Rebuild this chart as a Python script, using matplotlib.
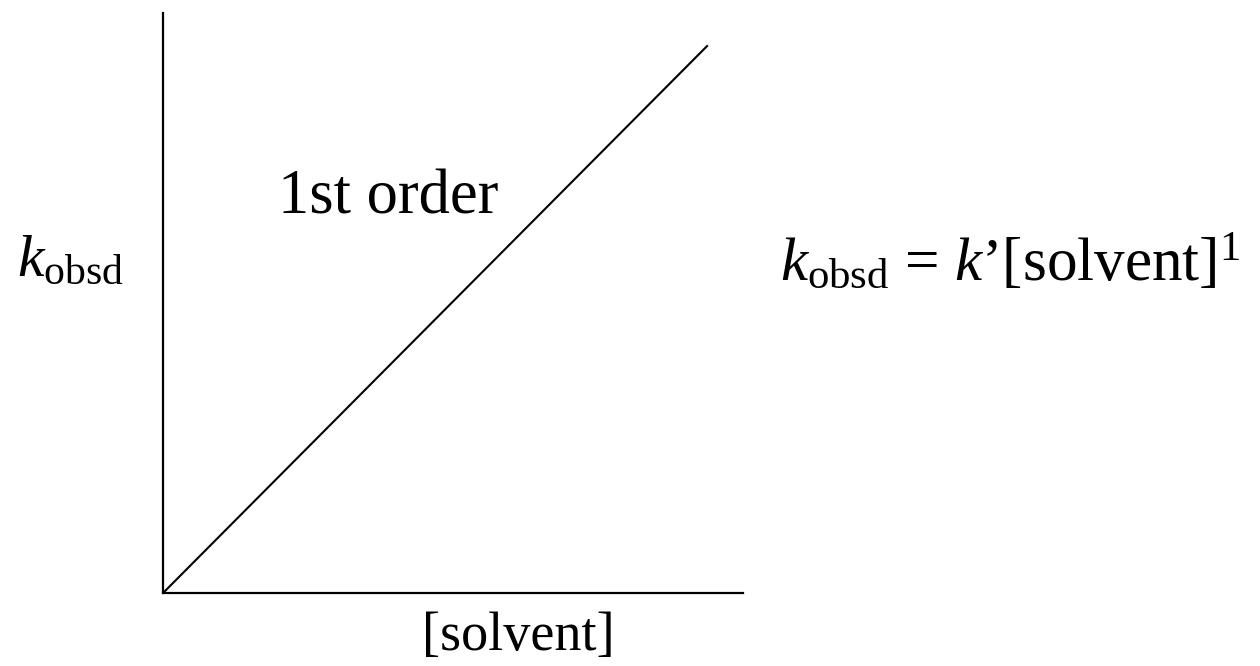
import matplotlib
matplotlib.use("Agg")
import matplotlib.pyplot as plt

plt.rcParams['font.family'] = ['Liberation Serif', 'DejaVu Serif']
plt.rcParams['mathtext.fontset'] = 'custom'
plt.rcParams['mathtext.rm'] = 'Liberation Serif'
plt.rcParams['mathtext.it'] = 'Liberation Serif:italic'

# data: straight first-order line through origin
solvent = [0, 9.38]
k_obsd = [0, 9.43]

xlabel = "[solvent]"
ylabel = r"$k_{\rm obsd}$"
line_label = "1st order"
equation = r"$k_{\rm obsd}$ = $k$’[solvent]$^{1}$"

fig = plt.figure(figsize=(12.6, 6.66), dpi=100)
ax = fig.add_axes([0.1294, 0.1096, 0.4603, 0.8709])
ax.plot(solvent, k_obsd, color='black', lw=1.5)
ax.set_xlim(0, 10)
ax.set_ylim(0, 10)
ax.spines['top'].set_visible(False)
ax.spines['right'].set_visible(False)
ax.spines['left'].set_linewidth(1.6)
ax.spines['bottom'].set_linewidth(1.6)
ax.set_xticks([])
ax.set_yticks([])

fig.text(0.2206, 0.680, line_label, fontsize=45, ha='left', va='baseline')
fig.text(0.335, 0.024, xlabel, fontsize=39, ha='left', va='baseline')
fig.text(0.0135, 0.5856, ylabel, fontsize=43, ha='left', va='baseline')
fig.text(0.619, 0.578, equation, fontsize=44, ha='left', va='baseline')

fig.savefig("out.png", dpi=100)
